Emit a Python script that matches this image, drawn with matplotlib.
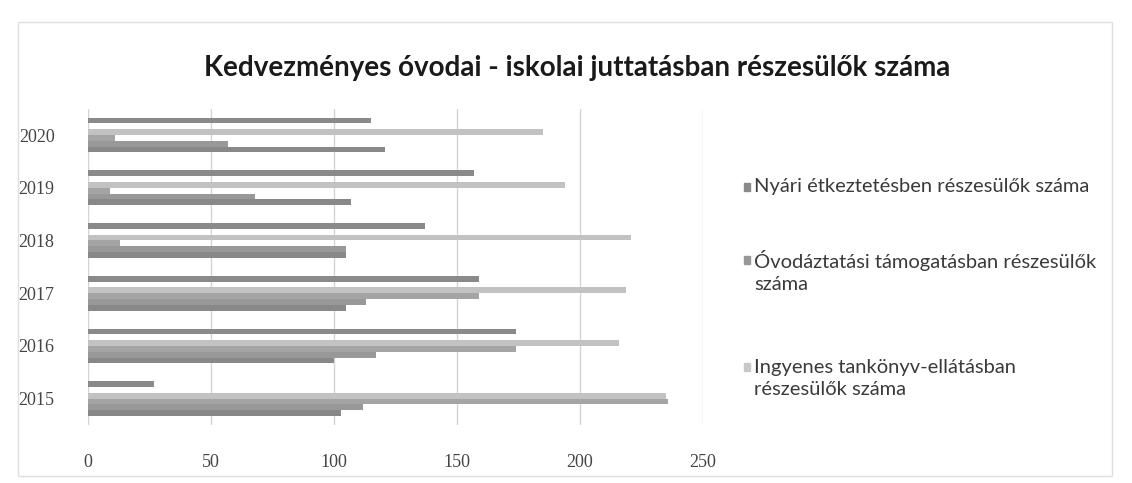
import matplotlib
matplotlib.use('Agg')
import matplotlib.pyplot as plt
import numpy as np

# Évek (alulról felfelé)
evek = ['2015', '2016', '2017', '2018', '2019', '2020']

# Sorozatok, a csoporton belül fentről lefelé (2015..2020)
nyari = [27, 174, 159, 137, 157, 115]
ures = [0, 0, 0, 0, 0, 0]
ingyenes = [235, 216, 219, 221, 194, 185]
sor4 = [236, 174, 159, 13, 9, 11]
ovodaztatasi = [112, 117, 113, 105, 68, 57]
sor6 = [103, 100, 105, 105, 107, 121]

nevek = ['Nyári étkeztetésben részesülők száma',
         None,
         'Ingyenes tankönyv-ellátásban\nrészesülők száma',
         None,
         'Óvodáztatási támogatásban részesülők\nszáma',
         None]
sorozatok = [nyari, ures, ingyenes, sor4, ovodaztatasi, sor6]
szinek = ['#8a8a8a', '#8a8a8a', '#c2c2c2', '#a4a4a4', '#989898', '#888888']

fig = plt.figure(figsize=(11.32, 4.83), dpi=100)
ax = fig.add_axes([0.0777, 0.12, 0.543, 0.655])

y = np.arange(len(evek))
h = 0.11
for i, (vals, szin) in enumerate(zip(sorozatok, szinek)):
    ax.barh(y + (2.5 - i) * h, vals, height=h, color=szin, edgecolor='none', zorder=3)

ax.set_xlim(0, 250)
ax.set_ylim(-0.5, 5.5)
ax.set_xticks(np.arange(0, 251, 50))
ax.set_yticks(y)
ax.set_yticklabels(evek)
ax.grid(axis='x', color='#d4d4d4', linewidth=1, zorder=0)
for s in ax.spines.values():
    s.set_visible(False)
ax.tick_params(length=0, labelsize=13, colors='#444444')
ax.tick_params(axis='x', pad=21)
ax.tick_params(axis='y', pad=24)
for lab in ax.get_xticklabels() + ax.get_yticklabels():
    lab.set_family('Liberation Serif')

fig.text(0.51, 0.86, 'Kedvezményes óvodai - iskolai juttatásban részesülők száma',
         ha='center', va='center', fontsize=20, fontweight='bold', family='Lato', color='#1a1a1a')

# jelmagyarázat: (sorozat, szöveg közepe, jel helye)
jelek = [(0, 0.613, 0.613), (4, 0.438, 0.462), (2, 0.216, 0.240)]
for idx, yk, yj in jelek:
    fig.patches.append(plt.Rectangle((0.657, yj - 0.008), 0.0055, 0.016, transform=fig.transFigure,
                                     color=szinek[idx] if idx != 2 else '#c8c8c8', figure=fig))
    fig.text(0.666, yk, nevek[idx], ha='left', va='center',
             fontsize=14.5, family='Lato', color='#3a3a3a', linespacing=1.4)

# keret
fig.patches.append(plt.Rectangle((0.016, 0.015), 0.966, 0.94, transform=fig.transFigure,
                                 fill=False, edgecolor='#e0e0e0', linewidth=1, figure=fig))

fig.savefig('out.png', dpi=100, facecolor='white')
